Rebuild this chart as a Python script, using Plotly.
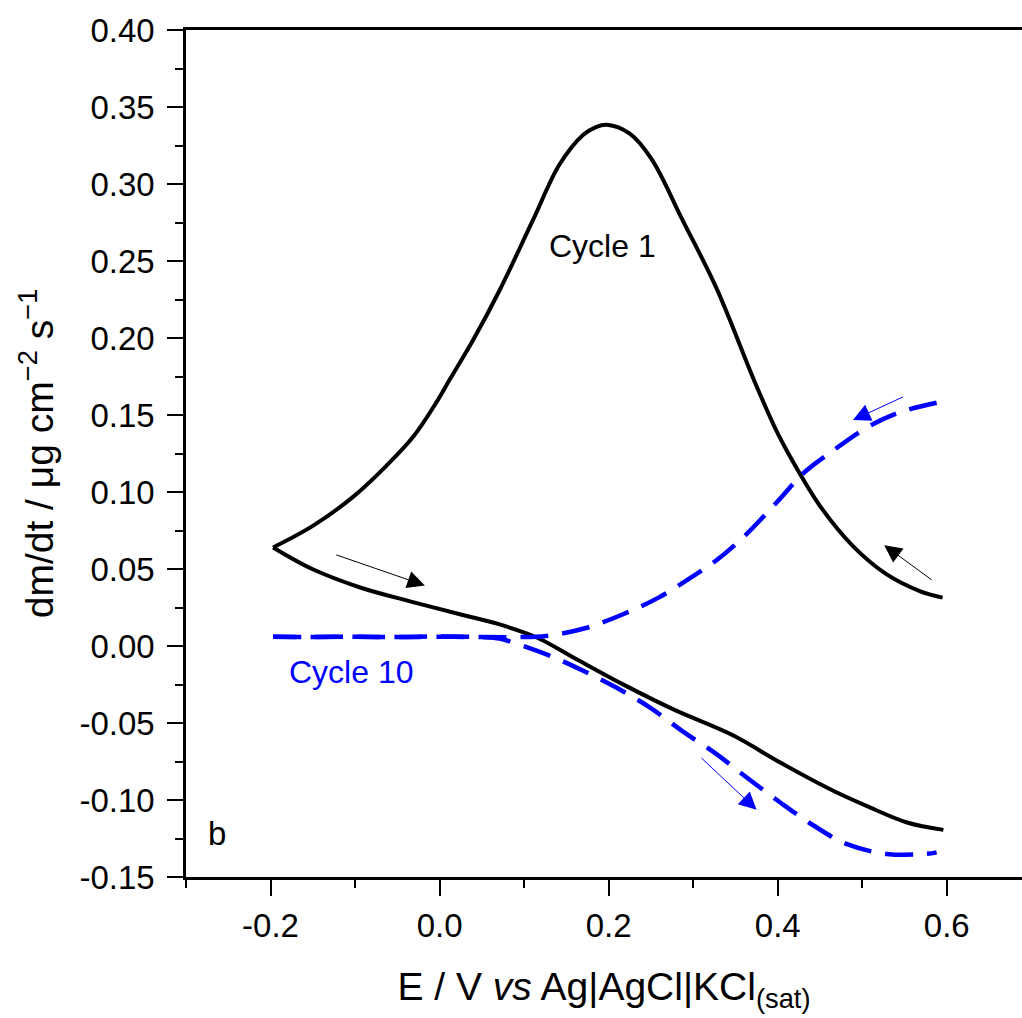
import plotly.graph_objects as go

# Cycle 1 (black): forward (lower) branch and reverse (upper) branch
e_c1_fwd = [-0.197, -0.15, -0.094, -0.035, 0.024, 0.071, 0.115, 0.162, 0.217, 0.276,
            0.347, 0.403, 0.462, 0.505, 0.553, 0.596]
dm_c1_fwd = [0.064, 0.0498, 0.038, 0.029, 0.0206, 0.0140, 0.0055, -0.0086, -0.0249, -0.041,
             -0.058, -0.0757, -0.093, -0.1038, -0.1146, -0.1194]
e_c1_rev = [0.595, 0.568, 0.529, 0.489, 0.450, 0.425, 0.40, 0.374, 0.327, 0.287, 0.251,
            0.225, 0.198, 0.185, 0.17, 0.142, 0.110, 0.071, 0.040, 0.012, -0.004, -0.031,
            -0.063, -0.102, -0.150, -0.197]
dm_c1_rev = [0.0314, 0.0357, 0.0465, 0.0649, 0.0909, 0.113, 0.138, 0.170, 0.233, 0.277, 0.316,
             0.3327, 0.3385, 0.337, 0.332, 0.3128, 0.276, 0.231, 0.199, 0.173, 0.158, 0.136,
             0.117, 0.097, 0.078, 0.064]

# Cycle 10 (blue dashed)
e_c10_fwd = [-0.197, -0.15, -0.1, -0.05, 0.0, 0.05, 0.071, 0.091, 0.134, 0.173, 0.209,
             0.249, 0.288, 0.326, 0.361, 0.403, 0.442, 0.482, 0.529, 0.576, 0.588]
dm_c10_fwd = [0.0060, 0.0058, 0.0060, 0.0058, 0.0062, 0.0058, 0.0048, 0.0015, -0.0071, -0.0169,
              -0.027, -0.040, -0.0556, -0.0696, -0.0844, -0.1016, -0.1164, -0.1287, -0.135,
              -0.135, -0.134]
e_c10_rev = [0.588, 0.543, 0.505, 0.462, 0.43, 0.40, 0.36, 0.326, 0.294, 0.259,
             0.217, 0.172, 0.126, 0.09, 0.05, 0.0, -0.05, -0.1, -0.15, -0.197]
dm_c10_rev = [0.158, 0.1515, 0.1417, 0.1255, 0.112, 0.094, 0.071, 0.055, 0.0433,
              0.0314, 0.0206, 0.0115, 0.0065, 0.0058, 0.0058, 0.006, 0.0058, 0.006, 0.0058, 0.006]

x_tick_vals = [-0.2, 0.0, 0.2, 0.4, 0.6]
x_tick_text = ["-0.2", "0.0", "0.2", "0.4", "0.6"]
y_tick_vals = [-0.15, -0.10, -0.05, 0.0, 0.05, 0.10, 0.15, 0.20, 0.25, 0.30, 0.35, 0.40]
y_tick_text = ["-0.15", "-0.10", "-0.05", "0.00", "0.05", "0.10", "0.15", "0.20",
               "0.25", "0.30", "0.35", "0.40"]

FONT = "Liberation Sans, Arial, sans-serif"
BLUE = "#0000ff"

fig = go.Figure()
for xs, ys in [(e_c1_fwd, dm_c1_fwd), (e_c1_rev, dm_c1_rev)]:
    fig.add_trace(go.Scatter(x=xs, y=ys, mode="lines",
                             line=dict(color="black", width=4, shape="spline", smoothing=1.0),
                             showlegend=False))
for xs, ys in [(e_c10_fwd, dm_c10_fwd), (e_c10_rev, dm_c10_rev)]:
    fig.add_trace(go.Scatter(x=xs, y=ys, mode="lines",
                             line=dict(color=BLUE, width=4.5, dash="28px,14px",
                                       shape="spline", smoothing=1.0),
                             showlegend=False))

arrows = [
    dict(x=-0.0174, y=0.0393, ax=-0.124, ay=0.0595, color="black"),
    dict(x=0.526, y=0.0655, ax=0.584, ay=0.0422, color="black"),
    dict(x=0.489, y=0.1467, ax=0.550, ay=0.1622, color=BLUE),
    dict(x=0.375, y=-0.1064, ax=0.308, ay=-0.0718, color=BLUE),
]
for a in arrows:
    fig.add_annotation(x=a["x"], y=a["y"], ax=a["ax"], ay=a["ay"], xref="x", yref="y",
                       axref="x", ayref="y", text="", showarrow=True, arrowhead=2,
                       arrowsize=3.5, arrowwidth=1, arrowcolor=a["color"])

fig.add_annotation(x=0.193, y=0.2596, xref="x", yref="y", text="Cycle 1", showarrow=False,
                   font=dict(family=FONT, size=32, color="black"))
fig.add_annotation(x=-0.028, y=-0.0171, xref="x", yref="y", text="Cycle 10", showarrow=False,
                   xanchor="right",
                   font=dict(family=FONT, size=32, color=BLUE))
fig.add_annotation(x=-0.263, y=-0.1215, xref="x", yref="y", text="b", showarrow=False,
                   font=dict(family=FONT, size=33, color="black"))

fig.update_layout(
    width=1022, height=1018,
    margin=dict(l=186, r=0, t=30, b=141, pad=0),
    plot_bgcolor="white", paper_bgcolor="white",
    font=dict(family=FONT, size=33, color="black"),
    xaxis=dict(range=[-0.3, 0.689], tickvals=x_tick_vals, ticktext=x_tick_text,
               ticks="outside", ticklen=16, tickwidth=2, tickcolor="black",
               showline=True, linewidth=2.5, linecolor="black", mirror=True,
               showgrid=False, zeroline=False, automargin=False,
               minor=dict(tickvals=[-0.3, -0.1, 0.1, 0.3, 0.5], ticks="outside", ticklen=8,
                          tickwidth=2, tickcolor="black", showgrid=False),
               tickfont=dict(size=33), ticklabelstandoff=2,
               title=dict(text="E / V <i>vs</i> Ag|AgCl|KCl<sub>(sat)</sub>",
                          font=dict(size=39), standoff=30)),
    yaxis=dict(range=[-0.15, 0.40], tickvals=y_tick_vals, ticktext=y_tick_text,
               ticks="outside", ticklen=16, tickwidth=2, tickcolor="black",
               showline=True, linewidth=2.5, linecolor="black", mirror=False,
               showgrid=False, zeroline=False, automargin=False,
               minor=dict(dtick=0.025, tick0=0.0, ticks="outside", ticklen=8,
                          tickwidth=2, tickcolor="black", showgrid=False),
               tickfont=dict(size=33), ticklabelstandoff=6,
               title=dict(text="dm/dt / μg cm<sup>−2</sup> s<sup>−1</sup>",
                          font=dict(size=39), standoff=14)),
)

fig.write_html("out.html")
